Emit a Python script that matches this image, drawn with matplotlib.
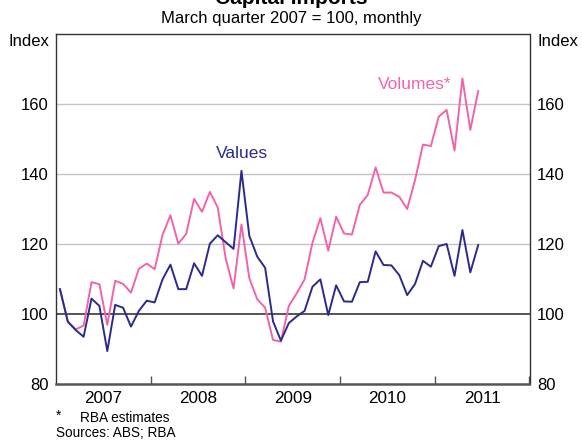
import numpy as np
import matplotlib
matplotlib.use("Agg")
import matplotlib.pyplot as plt

plt.rcParams['font.family'] = ['Liberation Sans', 'DejaVu Sans']

# monthly, Jan 2007 - Jun 2011, March quarter 2007 = 100
values = [107.1, 97.8, 95.4, 93.5, 104.4, 102.3, 89.4, 102.6, 101.8, 96.4,
          100.9, 103.8, 103.3, 109.9, 114.1, 107.1, 107.1, 114.5, 110.9, 120.1,
          122.5, 120.5, 118.6, 140.9, 122.3, 116.4, 113.2, 97.9, 92.4, 97.4,
          99.3, 100.9, 107.8, 109.9, 99.7, 108.2, 103.6, 103.5, 109.1, 109.2,
          117.9, 114.0, 113.9, 111.1, 105.4, 108.6, 115.2, 113.5, 119.4, 120.0,
          110.9, 124.0, 111.9, 119.7]
volumes = [107.1, 97.8, 95.6, 96.7, 109.1, 108.5, 96.9, 109.5, 108.6, 106.1,
           112.9, 114.4, 112.8, 122.6, 128.2, 120.1, 122.9, 132.9, 129.2, 134.9,
           130.4, 115.9, 107.3, 125.6, 110.2, 104.2, 101.8, 92.6, 92.1, 102.3,
           105.9, 109.9, 120.4, 127.4, 118.1, 127.8, 123.0, 122.7, 131.2, 134.0,
           141.9, 134.7, 134.7, 133.5, 130.0, 138.3, 148.4, 148.0, 156.4, 158.3,
           146.7, 167.3, 152.6, 163.7]
years = [2007, 2008, 2009, 2010, 2011]
yticks = [80, 100, 120, 140, 160]

x = 2007 + (np.arange(len(values)) + 0.5) / 12

navy = '#2b2b8e'
pink = '#f064aa'

fig = plt.figure(figsize=(5.82, 4.40), dpi=100)
ax = fig.add_axes([56 / 582, 1 - 384 / 440, (529.5 - 56) / 582, 350 / 440])

for y in [120, 140, 160]:
    ax.axhline(y, color='#c4c4c4', lw=1.0, zorder=1)
ax.axhline(100, color='#555555', lw=1.4, zorder=1)

ax.plot(x, volumes, color=pink, lw=1.4, zorder=3)
ax.plot(x, values, color=navy, lw=1.4, zorder=4)

ax.set_xlim(2007, 2012)
ax.set_ylim(80, 180)

ax.set_xticks(years[1:] + [2012])
ax.set_xticklabels([])
ax.set_xticks([y + 0.5 for y in years], minor=True)
ax.set_xticklabels([str(y) for y in years], minor=True)
ax.tick_params(axis='x', which='major', direction='in', length=6, width=1, color='#555555')
ax.tick_params(axis='x', which='minor', length=0, pad=5, labelsize=12.3)

ax.set_yticks(yticks)
ax.tick_params(axis='y', length=0, labelsize=12, pad=5.5, labelleft=True, labelright=True)

for s in ['left', 'right', 'top']:
    ax.spines[s].set_color('#333333')
    ax.spines[s].set_linewidth(1.0)
ax.spines['bottom'].set_color('#555555')
ax.spines['bottom'].set_linewidth(1.8)

ax.text(2008.96, 146.0, 'Values', color=navy, fontsize=12.5, ha='center', va='center')
ax.text(2010.79, 165.7, 'Volumes*', color=pink, fontsize=12.5, ha='center', va='center')

fig.text(0.5, 0.991, 'Capital Imports', fontsize=15, fontweight='bold', ha='center', va='baseline')
fig.text(0.5, 1 - 18 / 440, 'March quarter 2007 = 100, monthly', fontsize=12, ha='center', va='center')
fig.text(49.5 / 582, 1 - 41 / 440, 'Index', fontsize=12, ha='right', va='center')
fig.text(537.5 / 582, 1 - 41 / 440, 'Index', fontsize=12, ha='left', va='center')
fig.text(56 / 582, 1 - 416 / 440, '*', fontsize=9.8, ha='left', va='center')
fig.text(80 / 582, 1 - 418 / 440, 'RBA estimates', fontsize=9.8, ha='left', va='center')
fig.text(56 / 582, 1 - 433 / 440, 'Sources: ABS; RBA', fontsize=9.8, ha='left', va='center')

fig.savefig('out.png', dpi=100)
